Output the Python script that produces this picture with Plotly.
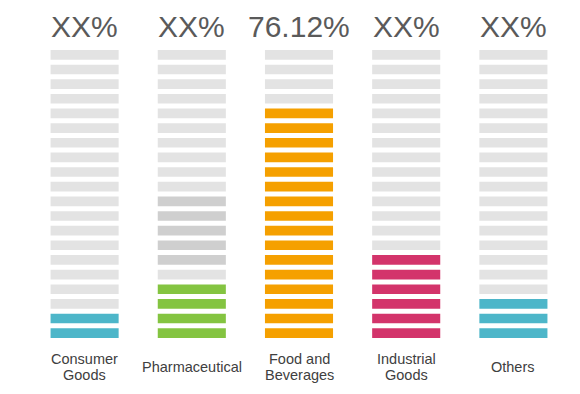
import plotly.graph_objects as go

# ---- data ----
categories = ["Consumer Goods", "Pharmaceutical", "Food and Beverages", "Industrial Goods", "Others"]
label_lines = [["Consumer", "Goods"], ["Pharmaceutical"], ["Food and", "Beverages"], ["Industrial", "Goods"], ["Others"]]
top_labels = ["XX%", "XX%", "76.12%", "XX%", "XX%"]
filled_counts = [2, 4, 16, 6, 3]          # coloured segments from the bottom
secondary_start = [0, 5, 0, 0, 0]          # darker-grey band start (segment index)
secondary_count = [0, 5, 0, 0, 0]          # darker-grey band length
total_segments = 20

# ---- styles ----
fill_colors = ["#4DB6C9", "#84C441", "#F5A000", "#D3346B", "#4DB6C9"]
empty_color = "#E3E3E3"
secondary_color = "#CFCFCF"
seg_height = 0.66

xs, bases, ys, colors = [], [], [], []
for i, cat in enumerate(categories):
    for k in range(total_segments):
        xs.append(cat)
        bases.append(k)
        ys.append(seg_height)
        if k < filled_counts[i]:
            colors.append(fill_colors[i])
        elif secondary_start[i] <= k < secondary_start[i] + secondary_count[i]:
            colors.append(secondary_color)
        else:
            colors.append(empty_color)

fig = go.Figure(go.Bar(
    x=xs, y=ys, base=bases,
    marker=dict(color=colors, line=dict(width=0)),
    width=0.635, hoverinfo="skip",
))

W, H = 580, 394
OFF = 8  # page body margin offset
ml, mr, mt, mb = 31 - OFF, 13 + OFF, 45 - OFF, 56 + OFF
plot_h = H - mt - mb


def py_to_paper(py):
    # py: target pixel in the window
    py = py - OFF
    return (H - mb - py) / plot_h


annotations = []
for i, cat in enumerate(categories):
    annotations.append(dict(
        x=cat, xref="x", y=py_to_paper(27), yref="paper",
        text=top_labels[i], showarrow=False, xanchor="center", yanchor="middle",
        font=dict(family="Liberation Sans, Arial", size=30, color="#5A5A5A"),
    ))
    lines = label_lines[i]
    n = len(lines)
    for j, line in enumerate(lines):
        py = 367 + (j - (n - 1) / 2) * 16
        annotations.append(dict(
            x=cat, xref="x", y=py_to_paper(py), yref="paper",
            text=line, showarrow=False, xanchor="center", yanchor="middle",
            font=dict(family="Liberation Sans, Arial", size=14.5, color="#404040"),
        ))

fig.update_layout(
    width=W, height=H,
    margin=dict(l=ml, r=mr, t=mt, b=mb),
    paper_bgcolor="white", plot_bgcolor="white",
    barmode="overlay", showlegend=False,
    xaxis=dict(type="category", range=[-0.5, 4.5], showticklabels=False,
               showgrid=False, zeroline=False, showline=False, ticks=""),
    yaxis=dict(range=[0, total_segments], showticklabels=False,
               showgrid=False, zeroline=False, showline=False, ticks=""),
    annotations=annotations,
)

fig.write_html("out.html")
